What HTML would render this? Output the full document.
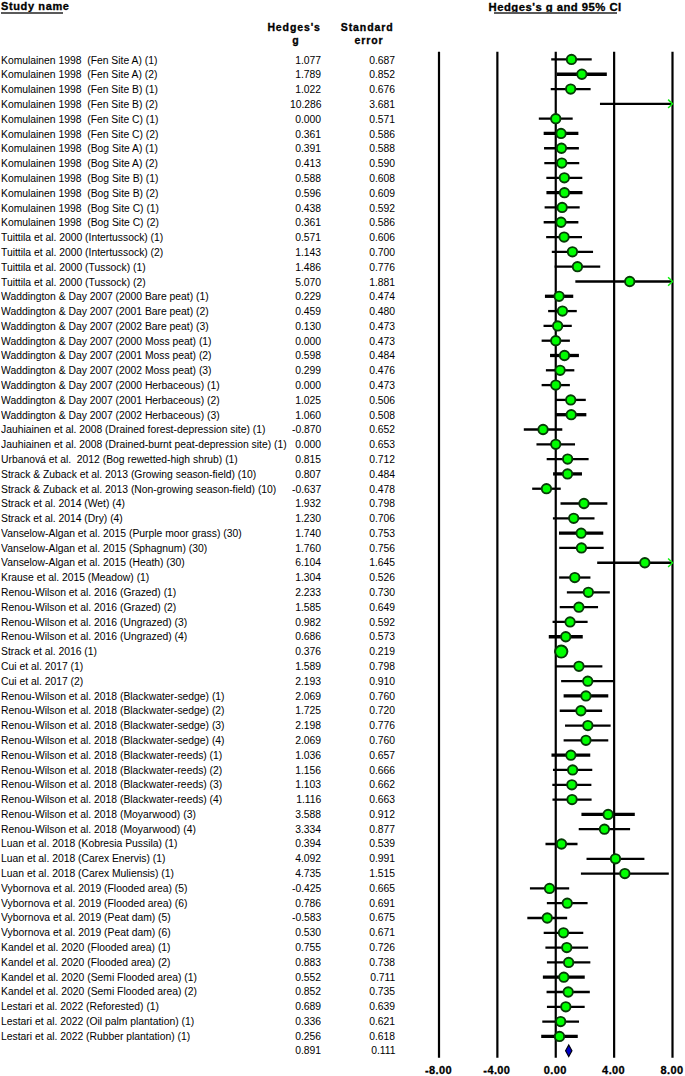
<!DOCTYPE html>
<html><head><meta charset="utf-8"><style>
html,body{margin:0;padding:0;background:#fff;}
body{width:685px;height:1076px;position:relative;overflow:hidden;font-family:"Liberation Sans",sans-serif;color:#000;}
.t{position:absolute;font-size:10px;line-height:12px;white-space:pre;transform:scaleX(1.034);transform-origin:0 0;}
.r{transform-origin:100% 0;text-align:right;}
.h{position:absolute;font-weight:bold;white-space:pre;-webkit-text-stroke:0.3px #000;}
.u{position:absolute;height:1.6px;background:#5a5a5a;}
svg{position:absolute;left:0;top:0;}
#w{position:absolute;left:0;top:0;width:685px;height:1076px;background:#fff;}
</style></head><body><div id="w">

<div class="h" style="left:1px;top:0.3px;font-size:11px;letter-spacing:0.62px;line-height:13px">Study name</div>
<div class="u" style="left:1px;top:12.1px;width:62px"></div>
<div class="h" style="left:488.6px;top:0.5px;font-size:11.3px;letter-spacing:0.47px;line-height:13px">Hedges's g and 95% CI</div>
<div class="u" style="left:494.2px;top:12.1px;width:122.5px"></div>
<div class="h" style="left:267.4px;top:21.2px;font-size:10.5px;letter-spacing:0.9px;line-height:12.5px">Hedges's</div>
<div class="h" style="left:292.2px;top:34.0px;font-size:10.5px;letter-spacing:0.75px;line-height:12.5px">g</div>
<div class="h" style="left:340.8px;top:21.2px;font-size:10.5px;letter-spacing:0.9px;line-height:12.5px">Standard</div>
<div class="h" style="left:354.6px;top:34.0px;font-size:10.5px;letter-spacing:0.9px;line-height:12.5px">error</div>
<div class="t" style="left:1.0px;top:55.00px">Komulainen 1998  (Fen Site A) (1)</div>
<div class="t r" style="right:363.70px;top:55.00px">1.077</div>
<div class="t r" style="right:289.60px;top:55.00px">0.687</div>
<div class="t" style="left:1.0px;top:69.00px">Komulainen 1998  (Fen Site A) (2)</div>
<div class="t r" style="right:363.70px;top:69.00px">1.789</div>
<div class="t r" style="right:289.60px;top:69.00px">0.852</div>
<div class="t" style="left:1.0px;top:84.00px">Komulainen 1998  (Fen Site B) (1)</div>
<div class="t r" style="right:363.70px;top:84.00px">1.022</div>
<div class="t r" style="right:289.60px;top:84.00px">0.676</div>
<div class="t" style="left:1.0px;top:99.00px">Komulainen 1998  (Fen Site B) (2)</div>
<div class="t r" style="right:363.70px;top:99.00px">10.286</div>
<div class="t r" style="right:289.60px;top:99.00px">3.681</div>
<div class="t" style="left:1.0px;top:114.00px">Komulainen 1998  (Fen Site C) (1)</div>
<div class="t r" style="right:363.70px;top:114.00px">0.000</div>
<div class="t r" style="right:289.60px;top:114.00px">0.571</div>
<div class="t" style="left:1.0px;top:129.00px">Komulainen 1998  (Fen Site C) (2)</div>
<div class="t r" style="right:363.70px;top:129.00px">0.361</div>
<div class="t r" style="right:289.60px;top:129.00px">0.586</div>
<div class="t" style="left:1.0px;top:143.00px">Komulainen 1998  (Bog Site A) (1)</div>
<div class="t r" style="right:363.70px;top:143.00px">0.391</div>
<div class="t r" style="right:289.60px;top:143.00px">0.588</div>
<div class="t" style="left:1.0px;top:158.00px">Komulainen 1998  (Bog Site A) (2)</div>
<div class="t r" style="right:363.70px;top:158.00px">0.413</div>
<div class="t r" style="right:289.60px;top:158.00px">0.590</div>
<div class="t" style="left:1.0px;top:173.00px">Komulainen 1998  (Bog Site B) (1)</div>
<div class="t r" style="right:363.70px;top:173.00px">0.588</div>
<div class="t r" style="right:289.60px;top:173.00px">0.608</div>
<div class="t" style="left:1.0px;top:188.00px">Komulainen 1998  (Bog Site B) (2)</div>
<div class="t r" style="right:363.70px;top:188.00px">0.596</div>
<div class="t r" style="right:289.60px;top:188.00px">0.609</div>
<div class="t" style="left:1.0px;top:203.00px">Komulainen 1998  (Bog Site C) (1)</div>
<div class="t r" style="right:363.70px;top:203.00px">0.438</div>
<div class="t r" style="right:289.60px;top:203.00px">0.592</div>
<div class="t" style="left:1.0px;top:217.00px">Komulainen 1998  (Bog Site C) (2)</div>
<div class="t r" style="right:363.70px;top:217.00px">0.361</div>
<div class="t r" style="right:289.60px;top:217.00px">0.586</div>
<div class="t" style="left:1.0px;top:232.00px">Tuittila et al. 2000 (Intertussock) (1)</div>
<div class="t r" style="right:363.70px;top:232.00px">0.571</div>
<div class="t r" style="right:289.60px;top:232.00px">0.606</div>
<div class="t" style="left:1.0px;top:247.00px">Tuittila et al. 2000 (Intertussock) (2)</div>
<div class="t r" style="right:363.70px;top:247.00px">1.143</div>
<div class="t r" style="right:289.60px;top:247.00px">0.700</div>
<div class="t" style="left:1.0px;top:262.00px">Tuittila et al. 2000 (Tussock) (1)</div>
<div class="t r" style="right:363.70px;top:262.00px">1.486</div>
<div class="t r" style="right:289.60px;top:262.00px">0.776</div>
<div class="t" style="left:1.0px;top:277.00px">Tuittila et al. 2000 (Tussock) (2)</div>
<div class="t r" style="right:363.70px;top:277.00px">5.070</div>
<div class="t r" style="right:289.60px;top:277.00px">1.881</div>
<div class="t" style="left:1.0px;top:291.00px">Waddington &amp; Day 2007 (2000 Bare peat) (1)</div>
<div class="t r" style="right:363.70px;top:291.00px">0.229</div>
<div class="t r" style="right:289.60px;top:291.00px">0.474</div>
<div class="t" style="left:1.0px;top:306.00px">Waddington &amp; Day 2007 (2001 Bare peat) (2)</div>
<div class="t r" style="right:363.70px;top:306.00px">0.459</div>
<div class="t r" style="right:289.60px;top:306.00px">0.480</div>
<div class="t" style="left:1.0px;top:321.00px">Waddington &amp; Day 2007 (2002 Bare peat) (3)</div>
<div class="t r" style="right:363.70px;top:321.00px">0.130</div>
<div class="t r" style="right:289.60px;top:321.00px">0.473</div>
<div class="t" style="left:1.0px;top:336.00px">Waddington &amp; Day 2007 (2000 Moss peat) (1)</div>
<div class="t r" style="right:363.70px;top:336.00px">0.000</div>
<div class="t r" style="right:289.60px;top:336.00px">0.473</div>
<div class="t" style="left:1.0px;top:350.00px">Waddington &amp; Day 2007 (2001 Moss peat) (2)</div>
<div class="t r" style="right:363.70px;top:350.00px">0.598</div>
<div class="t r" style="right:289.60px;top:350.00px">0.484</div>
<div class="t" style="left:1.0px;top:365.00px">Waddington &amp; Day 2007 (2002 Moss peat) (3)</div>
<div class="t r" style="right:363.70px;top:365.00px">0.299</div>
<div class="t r" style="right:289.60px;top:365.00px">0.476</div>
<div class="t" style="left:1.0px;top:380.00px">Waddington &amp; Day 2007 (2000 Herbaceous) (1)</div>
<div class="t r" style="right:363.70px;top:380.00px">0.000</div>
<div class="t r" style="right:289.60px;top:380.00px">0.473</div>
<div class="t" style="left:1.0px;top:395.00px">Waddington &amp; Day 2007 (2001 Herbaceous) (2)</div>
<div class="t r" style="right:363.70px;top:395.00px">1.025</div>
<div class="t r" style="right:289.60px;top:395.00px">0.506</div>
<div class="t" style="left:1.0px;top:410.00px">Waddington &amp; Day 2007 (2002 Herbaceous) (3)</div>
<div class="t r" style="right:363.70px;top:410.00px">1.060</div>
<div class="t r" style="right:289.60px;top:410.00px">0.508</div>
<div class="t" style="left:1.0px;top:424.00px">Jauhiainen et al. 2008 (Drained forest-depression site) (1)</div>
<div class="t r" style="right:363.70px;top:424.00px">-0.870</div>
<div class="t r" style="right:289.60px;top:424.00px">0.652</div>
<div class="t" style="left:1.0px;top:439.00px">Jauhiainen et al. 2008 (Drained-burnt peat-depression site) (1)</div>
<div class="t r" style="right:363.70px;top:439.00px">0.000</div>
<div class="t r" style="right:289.60px;top:439.00px">0.653</div>
<div class="t" style="left:1.0px;top:454.00px">Urbanová et al.  2012 (Bog rewetted-high shrub) (1)</div>
<div class="t r" style="right:363.70px;top:454.00px">0.815</div>
<div class="t r" style="right:289.60px;top:454.00px">0.712</div>
<div class="t" style="left:1.0px;top:469.00px">Strack &amp; Zuback et al. 2013 (Growing season-field) (10)</div>
<div class="t r" style="right:363.70px;top:469.00px">0.807</div>
<div class="t r" style="right:289.60px;top:469.00px">0.484</div>
<div class="t" style="left:1.0px;top:484.00px">Strack &amp; Zuback et al. 2013 (Non-growing season-field) (10)</div>
<div class="t r" style="right:363.70px;top:484.00px">-0.637</div>
<div class="t r" style="right:289.60px;top:484.00px">0.478</div>
<div class="t" style="left:1.0px;top:498.00px">Strack et al. 2014 (Wet) (4)</div>
<div class="t r" style="right:363.70px;top:498.00px">1.932</div>
<div class="t r" style="right:289.60px;top:498.00px">0.798</div>
<div class="t" style="left:1.0px;top:513.00px">Strack et al. 2014 (Dry) (4)</div>
<div class="t r" style="right:363.70px;top:513.00px">1.230</div>
<div class="t r" style="right:289.60px;top:513.00px">0.706</div>
<div class="t" style="left:1.0px;top:528.00px">Vanselow-Algan et al. 2015 (Purple moor grass) (30)</div>
<div class="t r" style="right:363.70px;top:528.00px">1.740</div>
<div class="t r" style="right:289.60px;top:528.00px">0.753</div>
<div class="t" style="left:1.0px;top:543.00px">Vanselow-Algan et al. 2015 (Sphagnum) (30)</div>
<div class="t r" style="right:363.70px;top:543.00px">1.760</div>
<div class="t r" style="right:289.60px;top:543.00px">0.756</div>
<div class="t" style="left:1.0px;top:557.00px">Vanselow-Algan et al. 2015 (Heath) (30)</div>
<div class="t r" style="right:363.70px;top:557.00px">6.104</div>
<div class="t r" style="right:289.60px;top:557.00px">1.645</div>
<div class="t" style="left:1.0px;top:572.00px">Krause et al. 2015 (Meadow) (1)</div>
<div class="t r" style="right:363.70px;top:572.00px">1.304</div>
<div class="t r" style="right:289.60px;top:572.00px">0.526</div>
<div class="t" style="left:1.0px;top:587.00px">Renou-Wilson et al. 2016 (Grazed) (1)</div>
<div class="t r" style="right:363.70px;top:587.00px">2.233</div>
<div class="t r" style="right:289.60px;top:587.00px">0.730</div>
<div class="t" style="left:1.0px;top:602.00px">Renou-Wilson et al. 2016 (Grazed) (2)</div>
<div class="t r" style="right:363.70px;top:602.00px">1.585</div>
<div class="t r" style="right:289.60px;top:602.00px">0.649</div>
<div class="t" style="left:1.0px;top:617.00px">Renou-Wilson et al. 2016 (Ungrazed) (3)</div>
<div class="t r" style="right:363.70px;top:617.00px">0.982</div>
<div class="t r" style="right:289.60px;top:617.00px">0.592</div>
<div class="t" style="left:1.0px;top:631.00px">Renou-Wilson et al. 2016 (Ungrazed) (4)</div>
<div class="t r" style="right:363.70px;top:631.00px">0.686</div>
<div class="t r" style="right:289.60px;top:631.00px">0.573</div>
<div class="t" style="left:1.0px;top:646.00px">Strack et al. 2016 (1)</div>
<div class="t r" style="right:363.70px;top:646.00px">0.376</div>
<div class="t r" style="right:289.60px;top:646.00px">0.219</div>
<div class="t" style="left:1.0px;top:661.00px">Cui et al. 2017 (1)</div>
<div class="t r" style="right:363.70px;top:661.00px">1.589</div>
<div class="t r" style="right:289.60px;top:661.00px">0.798</div>
<div class="t" style="left:1.0px;top:676.00px">Cui et al. 2017 (2)</div>
<div class="t r" style="right:363.70px;top:676.00px">2.193</div>
<div class="t r" style="right:289.60px;top:676.00px">0.910</div>
<div class="t" style="left:1.0px;top:691.00px">Renou-Wilson et al. 2018 (Blackwater-sedge) (1)</div>
<div class="t r" style="right:363.70px;top:691.00px">2.069</div>
<div class="t r" style="right:289.60px;top:691.00px">0.760</div>
<div class="t" style="left:1.0px;top:705.00px">Renou-Wilson et al. 2018 (Blackwater-sedge) (2)</div>
<div class="t r" style="right:363.70px;top:705.00px">1.725</div>
<div class="t r" style="right:289.60px;top:705.00px">0.720</div>
<div class="t" style="left:1.0px;top:720.00px">Renou-Wilson et al. 2018 (Blackwater-sedge) (3)</div>
<div class="t r" style="right:363.70px;top:720.00px">2.198</div>
<div class="t r" style="right:289.60px;top:720.00px">0.776</div>
<div class="t" style="left:1.0px;top:735.00px">Renou-Wilson et al. 2018 (Blackwater-sedge) (4)</div>
<div class="t r" style="right:363.70px;top:735.00px">2.069</div>
<div class="t r" style="right:289.60px;top:735.00px">0.760</div>
<div class="t" style="left:1.0px;top:750.00px">Renou-Wilson et al. 2018 (Blackwater-reeds) (1)</div>
<div class="t r" style="right:363.70px;top:750.00px">1.036</div>
<div class="t r" style="right:289.60px;top:750.00px">0.657</div>
<div class="t" style="left:1.0px;top:765.00px">Renou-Wilson et al. 2018 (Blackwater-reeds) (2)</div>
<div class="t r" style="right:363.70px;top:765.00px">1.156</div>
<div class="t r" style="right:289.60px;top:765.00px">0.666</div>
<div class="t" style="left:1.0px;top:779.00px">Renou-Wilson et al. 2018 (Blackwater-reeds) (3)</div>
<div class="t r" style="right:363.70px;top:779.00px">1.103</div>
<div class="t r" style="right:289.60px;top:779.00px">0.662</div>
<div class="t" style="left:1.0px;top:794.00px">Renou-Wilson et al. 2018 (Blackwater-reeds) (4)</div>
<div class="t r" style="right:363.70px;top:794.00px">1.116</div>
<div class="t r" style="right:289.60px;top:794.00px">0.663</div>
<div class="t" style="left:1.0px;top:809.00px">Renou-Wilson et al. 2018 (Moyarwood) (3)</div>
<div class="t r" style="right:363.70px;top:809.00px">3.588</div>
<div class="t r" style="right:289.60px;top:809.00px">0.912</div>
<div class="t" style="left:1.0px;top:824.00px">Renou-Wilson et al. 2018 (Moyarwood) (4)</div>
<div class="t r" style="right:363.70px;top:824.00px">3.334</div>
<div class="t r" style="right:289.60px;top:824.00px">0.877</div>
<div class="t" style="left:1.0px;top:838.00px">Luan et al. 2018 (Kobresia Pussila) (1)</div>
<div class="t r" style="right:363.70px;top:838.00px">0.394</div>
<div class="t r" style="right:289.60px;top:838.00px">0.539</div>
<div class="t" style="left:1.0px;top:853.00px">Luan et al. 2018 (Carex Enervis) (1)</div>
<div class="t r" style="right:363.70px;top:853.00px">4.092</div>
<div class="t r" style="right:289.60px;top:853.00px">0.991</div>
<div class="t" style="left:1.0px;top:868.00px">Luan et al. 2018 (Carex Muliensis) (1)</div>
<div class="t r" style="right:363.70px;top:868.00px">4.735</div>
<div class="t r" style="right:289.60px;top:868.00px">1.515</div>
<div class="t" style="left:1.0px;top:883.00px">Vybornova et al. 2019 (Flooded area) (5)</div>
<div class="t r" style="right:363.70px;top:883.00px">-0.425</div>
<div class="t r" style="right:289.60px;top:883.00px">0.665</div>
<div class="t" style="left:1.0px;top:898.00px">Vybornova et al. 2019 (Flooded area) (6)</div>
<div class="t r" style="right:363.70px;top:898.00px">0.786</div>
<div class="t r" style="right:289.60px;top:898.00px">0.691</div>
<div class="t" style="left:1.0px;top:912.00px">Vybornova et al. 2019 (Peat dam) (5)</div>
<div class="t r" style="right:363.70px;top:912.00px">-0.583</div>
<div class="t r" style="right:289.60px;top:912.00px">0.675</div>
<div class="t" style="left:1.0px;top:927.00px">Vybornova et al. 2019 (Peat dam) (6)</div>
<div class="t r" style="right:363.70px;top:927.00px">0.530</div>
<div class="t r" style="right:289.60px;top:927.00px">0.671</div>
<div class="t" style="left:1.0px;top:942.00px">Kandel et al. 2020 (Flooded area) (1)</div>
<div class="t r" style="right:363.70px;top:942.00px">0.755</div>
<div class="t r" style="right:289.60px;top:942.00px">0.726</div>
<div class="t" style="left:1.0px;top:957.00px">Kandel et al. 2020 (Flooded area) (2)</div>
<div class="t r" style="right:363.70px;top:957.00px">0.883</div>
<div class="t r" style="right:289.60px;top:957.00px">0.738</div>
<div class="t" style="left:1.0px;top:972.00px">Kandel et al. 2020 (Semi Flooded area) (1)</div>
<div class="t r" style="right:363.70px;top:972.00px">0.552</div>
<div class="t r" style="right:289.60px;top:972.00px">0.711</div>
<div class="t" style="left:1.0px;top:986.00px">Kandel et al. 2020 (Semi Flooded area) (2)</div>
<div class="t r" style="right:363.70px;top:986.00px">0.852</div>
<div class="t r" style="right:289.60px;top:986.00px">0.735</div>
<div class="t" style="left:1.0px;top:1001.00px">Lestari et al. 2022 (Reforested) (1)</div>
<div class="t r" style="right:363.70px;top:1001.00px">0.689</div>
<div class="t r" style="right:289.60px;top:1001.00px">0.639</div>
<div class="t" style="left:1.0px;top:1016.00px">Lestari et al. 2022 (Oil palm plantation) (1)</div>
<div class="t r" style="right:363.70px;top:1016.00px">0.336</div>
<div class="t r" style="right:289.60px;top:1016.00px">0.621</div>
<div class="t" style="left:1.0px;top:1031.00px">Lestari et al. 2022 (Rubber plantation) (1)</div>
<div class="t r" style="right:363.70px;top:1031.00px">0.256</div>
<div class="t r" style="right:289.60px;top:1031.00px">0.618</div>
<div class="t r" style="right:363.70px;top:1045.00px">0.891</div>
<div class="t r" style="right:289.60px;top:1045.00px">0.111</div>
<div class="h" style="left:408.50px;width:60px;text-align:center;top:1063.6px;font-size:11px;letter-spacing:0.4px;line-height:12px">-8.00</div>
<div class="h" style="left:466.87px;width:60px;text-align:center;top:1063.6px;font-size:11px;letter-spacing:0.4px;line-height:12px">-4.00</div>
<div class="h" style="left:525.25px;width:60px;text-align:center;top:1063.6px;font-size:11px;letter-spacing:0.4px;line-height:12px">0.00</div>
<div class="h" style="left:583.63px;width:60px;text-align:center;top:1063.6px;font-size:11px;letter-spacing:0.4px;line-height:12px">4.00</div>
<div class="h" style="left:642.00px;width:60px;text-align:center;top:1063.6px;font-size:11px;letter-spacing:0.4px;line-height:12px">8.00</div>
<svg width="685" height="1076" viewBox="0 0 685 1076">
<line x1="439.00" y1="51.8" x2="439.00" y2="1057.7" stroke="#000" stroke-width="2.2"/>
<line x1="497.37" y1="51.8" x2="497.37" y2="1057.7" stroke="#000" stroke-width="2.2"/>
<line x1="555.75" y1="51.8" x2="555.75" y2="1057.7" stroke="#000" stroke-width="2.2"/>
<line x1="614.13" y1="51.8" x2="614.13" y2="1057.7" stroke="#000" stroke-width="2.2"/>
<line x1="672.50" y1="51.8" x2="672.50" y2="1057.7" stroke="#000" stroke-width="2.2"/>
<line x1="551.22" y1="59.43" x2="591.72" y2="59.43" stroke="#000" stroke-width="2.3"/>
<circle cx="571.47" cy="59.43" r="4.7" fill="#00ff00" stroke="#073a07" stroke-width="1.9"/>
<line x1="556.89" y1="74.23" x2="606.83" y2="74.23" stroke="#000" stroke-width="3.3"/>
<circle cx="581.86" cy="74.23" r="4.7" fill="#00ff00" stroke="#073a07" stroke-width="1.9"/>
<line x1="550.73" y1="89.04" x2="590.60" y2="89.04" stroke="#000" stroke-width="2.3"/>
<circle cx="570.67" cy="89.04" r="4.7" fill="#00ff00" stroke="#073a07" stroke-width="1.9"/>
<line x1="599.97" y1="103.84" x2="672.50" y2="103.84" stroke="#000" stroke-width="2.3"/>
<polyline points="668.10,99.64 672.50,103.84 668.10,108.04" fill="none" stroke="#10f010" stroke-width="1.5"/>
<line x1="538.82" y1="118.64" x2="572.68" y2="118.64" stroke="#000" stroke-width="2.3"/>
<circle cx="555.75" cy="118.64" r="4.7" fill="#00ff00" stroke="#073a07" stroke-width="1.9"/>
<line x1="543.66" y1="133.44" x2="578.38" y2="133.44" stroke="#000" stroke-width="3.3"/>
<circle cx="561.02" cy="133.44" r="4.7" fill="#00ff00" stroke="#073a07" stroke-width="1.9"/>
<line x1="544.04" y1="148.25" x2="578.88" y2="148.25" stroke="#000" stroke-width="2.3"/>
<circle cx="561.46" cy="148.25" r="4.7" fill="#00ff00" stroke="#073a07" stroke-width="1.9"/>
<line x1="544.30" y1="163.05" x2="579.25" y2="163.05" stroke="#000" stroke-width="2.3"/>
<circle cx="561.78" cy="163.05" r="4.7" fill="#00ff00" stroke="#073a07" stroke-width="1.9"/>
<line x1="546.34" y1="177.85" x2="582.32" y2="177.85" stroke="#000" stroke-width="2.3"/>
<circle cx="564.33" cy="177.85" r="4.7" fill="#00ff00" stroke="#073a07" stroke-width="1.9"/>
<line x1="546.43" y1="192.66" x2="582.47" y2="192.66" stroke="#000" stroke-width="3.3"/>
<circle cx="564.45" cy="192.66" r="4.7" fill="#00ff00" stroke="#073a07" stroke-width="1.9"/>
<line x1="544.61" y1="207.46" x2="579.68" y2="207.46" stroke="#000" stroke-width="2.3"/>
<circle cx="562.14" cy="207.46" r="4.7" fill="#00ff00" stroke="#073a07" stroke-width="1.9"/>
<line x1="543.66" y1="222.26" x2="578.38" y2="222.26" stroke="#000" stroke-width="2.3"/>
<circle cx="561.02" cy="222.26" r="4.7" fill="#00ff00" stroke="#073a07" stroke-width="1.9"/>
<line x1="546.15" y1="237.07" x2="582.02" y2="237.07" stroke="#000" stroke-width="2.3"/>
<circle cx="564.08" cy="237.07" r="4.7" fill="#00ff00" stroke="#073a07" stroke-width="1.9"/>
<line x1="551.81" y1="251.87" x2="593.05" y2="251.87" stroke="#000" stroke-width="2.3"/>
<circle cx="572.43" cy="251.87" r="4.7" fill="#00ff00" stroke="#073a07" stroke-width="1.9"/>
<line x1="554.64" y1="266.67" x2="600.23" y2="266.67" stroke="#000" stroke-width="2.3"/>
<circle cx="577.44" cy="266.67" r="4.7" fill="#00ff00" stroke="#073a07" stroke-width="1.9"/>
<line x1="575.34" y1="281.48" x2="672.50" y2="281.48" stroke="#000" stroke-width="2.3"/>
<polyline points="668.10,277.28 672.50,281.48 668.10,285.68" fill="none" stroke="#10f010" stroke-width="1.5"/>
<circle cx="629.74" cy="281.48" r="4.7" fill="#00ff00" stroke="#073a07" stroke-width="1.9"/>
<line x1="544.93" y1="296.28" x2="573.25" y2="296.28" stroke="#000" stroke-width="3.3"/>
<circle cx="559.09" cy="296.28" r="4.7" fill="#00ff00" stroke="#073a07" stroke-width="1.9"/>
<line x1="548.12" y1="311.08" x2="576.78" y2="311.08" stroke="#000" stroke-width="2.3"/>
<circle cx="562.45" cy="311.08" r="4.7" fill="#00ff00" stroke="#073a07" stroke-width="1.9"/>
<line x1="543.52" y1="325.88" x2="571.78" y2="325.88" stroke="#000" stroke-width="2.3"/>
<circle cx="557.65" cy="325.88" r="4.7" fill="#00ff00" stroke="#073a07" stroke-width="1.9"/>
<line x1="541.62" y1="340.69" x2="569.88" y2="340.69" stroke="#000" stroke-width="2.3"/>
<circle cx="555.75" cy="340.69" r="4.7" fill="#00ff00" stroke="#073a07" stroke-width="1.9"/>
<line x1="550.03" y1="355.49" x2="578.92" y2="355.49" stroke="#000" stroke-width="3.3"/>
<circle cx="564.48" cy="355.49" r="4.7" fill="#00ff00" stroke="#073a07" stroke-width="1.9"/>
<line x1="545.90" y1="370.29" x2="574.33" y2="370.29" stroke="#000" stroke-width="2.3"/>
<circle cx="560.11" cy="370.29" r="4.7" fill="#00ff00" stroke="#073a07" stroke-width="1.9"/>
<line x1="541.62" y1="385.10" x2="569.88" y2="385.10" stroke="#000" stroke-width="2.3"/>
<circle cx="555.75" cy="385.10" r="4.7" fill="#00ff00" stroke="#073a07" stroke-width="1.9"/>
<line x1="555.64" y1="399.90" x2="585.78" y2="399.90" stroke="#000" stroke-width="2.3"/>
<circle cx="570.71" cy="399.90" r="4.7" fill="#00ff00" stroke="#073a07" stroke-width="1.9"/>
<line x1="556.09" y1="414.70" x2="586.35" y2="414.70" stroke="#000" stroke-width="3.3"/>
<circle cx="571.22" cy="414.70" r="4.7" fill="#00ff00" stroke="#073a07" stroke-width="1.9"/>
<line x1="523.80" y1="429.51" x2="562.30" y2="429.51" stroke="#000" stroke-width="2.3"/>
<circle cx="543.05" cy="429.51" r="4.7" fill="#00ff00" stroke="#073a07" stroke-width="1.9"/>
<line x1="536.47" y1="444.31" x2="575.03" y2="444.31" stroke="#000" stroke-width="2.3"/>
<circle cx="555.75" cy="444.31" r="4.7" fill="#00ff00" stroke="#073a07" stroke-width="1.9"/>
<line x1="546.68" y1="459.11" x2="588.61" y2="459.11" stroke="#000" stroke-width="2.3"/>
<circle cx="567.64" cy="459.11" r="4.7" fill="#00ff00" stroke="#073a07" stroke-width="1.9"/>
<line x1="553.08" y1="473.91" x2="581.97" y2="473.91" stroke="#000" stroke-width="3.3"/>
<circle cx="567.53" cy="473.91" r="4.7" fill="#00ff00" stroke="#073a07" stroke-width="1.9"/>
<line x1="532.18" y1="488.72" x2="560.73" y2="488.72" stroke="#000" stroke-width="2.3"/>
<circle cx="546.45" cy="488.72" r="4.7" fill="#00ff00" stroke="#073a07" stroke-width="1.9"/>
<line x1="560.52" y1="503.52" x2="607.37" y2="503.52" stroke="#000" stroke-width="2.3"/>
<circle cx="583.95" cy="503.52" r="4.7" fill="#00ff00" stroke="#073a07" stroke-width="1.9"/>
<line x1="552.91" y1="518.32" x2="594.50" y2="518.32" stroke="#000" stroke-width="2.3"/>
<circle cx="573.70" cy="518.32" r="4.7" fill="#00ff00" stroke="#073a07" stroke-width="1.9"/>
<line x1="559.00" y1="533.13" x2="603.28" y2="533.13" stroke="#000" stroke-width="3.3"/>
<circle cx="581.14" cy="533.13" r="4.7" fill="#00ff00" stroke="#073a07" stroke-width="1.9"/>
<line x1="559.21" y1="547.93" x2="603.66" y2="547.93" stroke="#000" stroke-width="2.3"/>
<circle cx="581.44" cy="547.93" r="4.7" fill="#00ff00" stroke="#073a07" stroke-width="1.9"/>
<line x1="597.18" y1="562.73" x2="672.50" y2="562.73" stroke="#000" stroke-width="2.3"/>
<polyline points="668.10,558.53 672.50,562.73 668.10,566.93" fill="none" stroke="#10f010" stroke-width="1.5"/>
<circle cx="644.83" cy="562.73" r="4.7" fill="#00ff00" stroke="#073a07" stroke-width="1.9"/>
<line x1="559.13" y1="577.53" x2="590.43" y2="577.53" stroke="#000" stroke-width="2.3"/>
<circle cx="574.78" cy="577.53" r="4.7" fill="#00ff00" stroke="#073a07" stroke-width="1.9"/>
<line x1="566.86" y1="592.34" x2="609.82" y2="592.34" stroke="#000" stroke-width="2.3"/>
<circle cx="588.34" cy="592.34" r="4.7" fill="#00ff00" stroke="#073a07" stroke-width="1.9"/>
<line x1="559.72" y1="607.14" x2="598.05" y2="607.14" stroke="#000" stroke-width="2.3"/>
<circle cx="578.88" cy="607.14" r="4.7" fill="#00ff00" stroke="#073a07" stroke-width="1.9"/>
<line x1="552.55" y1="621.94" x2="587.62" y2="621.94" stroke="#000" stroke-width="2.3"/>
<circle cx="570.08" cy="621.94" r="4.7" fill="#00ff00" stroke="#073a07" stroke-width="1.9"/>
<line x1="548.77" y1="636.75" x2="582.75" y2="636.75" stroke="#000" stroke-width="3.3"/>
<circle cx="565.76" cy="636.75" r="4.7" fill="#00ff00" stroke="#073a07" stroke-width="1.9"/>
<line x1="554.37" y1="651.55" x2="568.10" y2="651.55" stroke="#000" stroke-width="2.3"/>
<circle cx="561.24" cy="651.55" r="6.1" fill="#00ff00" stroke="#073a07" stroke-width="1.9"/>
<line x1="555.51" y1="666.35" x2="602.37" y2="666.35" stroke="#000" stroke-width="2.3"/>
<circle cx="578.94" cy="666.35" r="4.7" fill="#00ff00" stroke="#073a07" stroke-width="1.9"/>
<line x1="561.12" y1="681.16" x2="614.38" y2="681.16" stroke="#000" stroke-width="2.3"/>
<circle cx="587.75" cy="681.16" r="4.7" fill="#00ff00" stroke="#073a07" stroke-width="1.9"/>
<line x1="563.61" y1="695.96" x2="608.28" y2="695.96" stroke="#000" stroke-width="3.3"/>
<circle cx="585.94" cy="695.96" r="4.7" fill="#00ff00" stroke="#073a07" stroke-width="1.9"/>
<line x1="559.73" y1="710.76" x2="602.12" y2="710.76" stroke="#000" stroke-width="2.3"/>
<circle cx="580.92" cy="710.76" r="4.7" fill="#00ff00" stroke="#073a07" stroke-width="1.9"/>
<line x1="565.03" y1="725.56" x2="610.62" y2="725.56" stroke="#000" stroke-width="2.3"/>
<circle cx="587.83" cy="725.56" r="4.7" fill="#00ff00" stroke="#073a07" stroke-width="1.9"/>
<line x1="563.61" y1="740.37" x2="608.28" y2="740.37" stroke="#000" stroke-width="2.3"/>
<circle cx="585.94" cy="740.37" r="4.7" fill="#00ff00" stroke="#073a07" stroke-width="1.9"/>
<line x1="551.48" y1="755.17" x2="590.26" y2="755.17" stroke="#000" stroke-width="3.3"/>
<circle cx="570.87" cy="755.17" r="4.7" fill="#00ff00" stroke="#073a07" stroke-width="1.9"/>
<line x1="552.97" y1="769.97" x2="592.27" y2="769.97" stroke="#000" stroke-width="2.3"/>
<circle cx="572.62" cy="769.97" r="4.7" fill="#00ff00" stroke="#073a07" stroke-width="1.9"/>
<line x1="552.31" y1="784.78" x2="591.38" y2="784.78" stroke="#000" stroke-width="2.3"/>
<circle cx="571.85" cy="784.78" r="4.7" fill="#00ff00" stroke="#073a07" stroke-width="1.9"/>
<line x1="552.47" y1="799.58" x2="591.60" y2="799.58" stroke="#000" stroke-width="2.3"/>
<circle cx="572.04" cy="799.58" r="4.7" fill="#00ff00" stroke="#073a07" stroke-width="1.9"/>
<line x1="581.43" y1="814.38" x2="634.80" y2="814.38" stroke="#000" stroke-width="3.3"/>
<circle cx="608.11" cy="814.38" r="4.7" fill="#00ff00" stroke="#073a07" stroke-width="1.9"/>
<line x1="578.72" y1="829.19" x2="630.09" y2="829.19" stroke="#000" stroke-width="2.3"/>
<circle cx="604.41" cy="829.19" r="4.7" fill="#00ff00" stroke="#073a07" stroke-width="1.9"/>
<line x1="545.48" y1="843.99" x2="577.52" y2="843.99" stroke="#000" stroke-width="2.3"/>
<circle cx="561.50" cy="843.99" r="4.7" fill="#00ff00" stroke="#073a07" stroke-width="1.9"/>
<line x1="586.52" y1="858.79" x2="644.42" y2="858.79" stroke="#000" stroke-width="2.3"/>
<circle cx="615.47" cy="858.79" r="4.7" fill="#00ff00" stroke="#073a07" stroke-width="1.9"/>
<line x1="580.92" y1="873.60" x2="668.79" y2="873.60" stroke="#000" stroke-width="2.3"/>
<circle cx="624.85" cy="873.60" r="4.7" fill="#00ff00" stroke="#073a07" stroke-width="1.9"/>
<line x1="529.93" y1="888.40" x2="569.17" y2="888.40" stroke="#000" stroke-width="2.3"/>
<circle cx="549.55" cy="888.40" r="4.7" fill="#00ff00" stroke="#073a07" stroke-width="1.9"/>
<line x1="546.86" y1="903.20" x2="587.59" y2="903.20" stroke="#000" stroke-width="2.3"/>
<circle cx="567.22" cy="903.20" r="4.7" fill="#00ff00" stroke="#073a07" stroke-width="1.9"/>
<line x1="527.33" y1="918.00" x2="567.15" y2="918.00" stroke="#000" stroke-width="2.3"/>
<circle cx="547.24" cy="918.00" r="4.7" fill="#00ff00" stroke="#073a07" stroke-width="1.9"/>
<line x1="543.69" y1="932.81" x2="583.28" y2="932.81" stroke="#000" stroke-width="2.3"/>
<circle cx="563.48" cy="932.81" r="4.7" fill="#00ff00" stroke="#073a07" stroke-width="1.9"/>
<line x1="545.40" y1="947.61" x2="588.14" y2="947.61" stroke="#000" stroke-width="2.3"/>
<circle cx="566.77" cy="947.61" r="4.7" fill="#00ff00" stroke="#073a07" stroke-width="1.9"/>
<line x1="546.93" y1="962.41" x2="590.35" y2="962.41" stroke="#000" stroke-width="2.3"/>
<circle cx="568.64" cy="962.41" r="4.7" fill="#00ff00" stroke="#073a07" stroke-width="1.9"/>
<line x1="542.87" y1="977.22" x2="584.74" y2="977.22" stroke="#000" stroke-width="3.3"/>
<circle cx="563.81" cy="977.22" r="4.7" fill="#00ff00" stroke="#073a07" stroke-width="1.9"/>
<line x1="546.56" y1="992.02" x2="589.81" y2="992.02" stroke="#000" stroke-width="2.3"/>
<circle cx="568.18" cy="992.02" r="4.7" fill="#00ff00" stroke="#073a07" stroke-width="1.9"/>
<line x1="546.93" y1="1006.82" x2="584.68" y2="1006.82" stroke="#000" stroke-width="2.3"/>
<circle cx="565.81" cy="1006.82" r="4.7" fill="#00ff00" stroke="#073a07" stroke-width="1.9"/>
<line x1="542.29" y1="1021.62" x2="579.02" y2="1021.62" stroke="#000" stroke-width="2.3"/>
<circle cx="560.65" cy="1021.62" r="4.7" fill="#00ff00" stroke="#073a07" stroke-width="1.9"/>
<line x1="541.21" y1="1036.43" x2="577.76" y2="1036.43" stroke="#000" stroke-width="3.3"/>
<circle cx="559.49" cy="1036.43" r="4.7" fill="#00ff00" stroke="#073a07" stroke-width="1.9"/>
<polygon points="565.58,1050.73 568.75,1044.93 571.93,1050.73 568.75,1056.53" fill="#0000c8" stroke="#000010" stroke-width="1.2"/>
</svg>
</div></body></html>
